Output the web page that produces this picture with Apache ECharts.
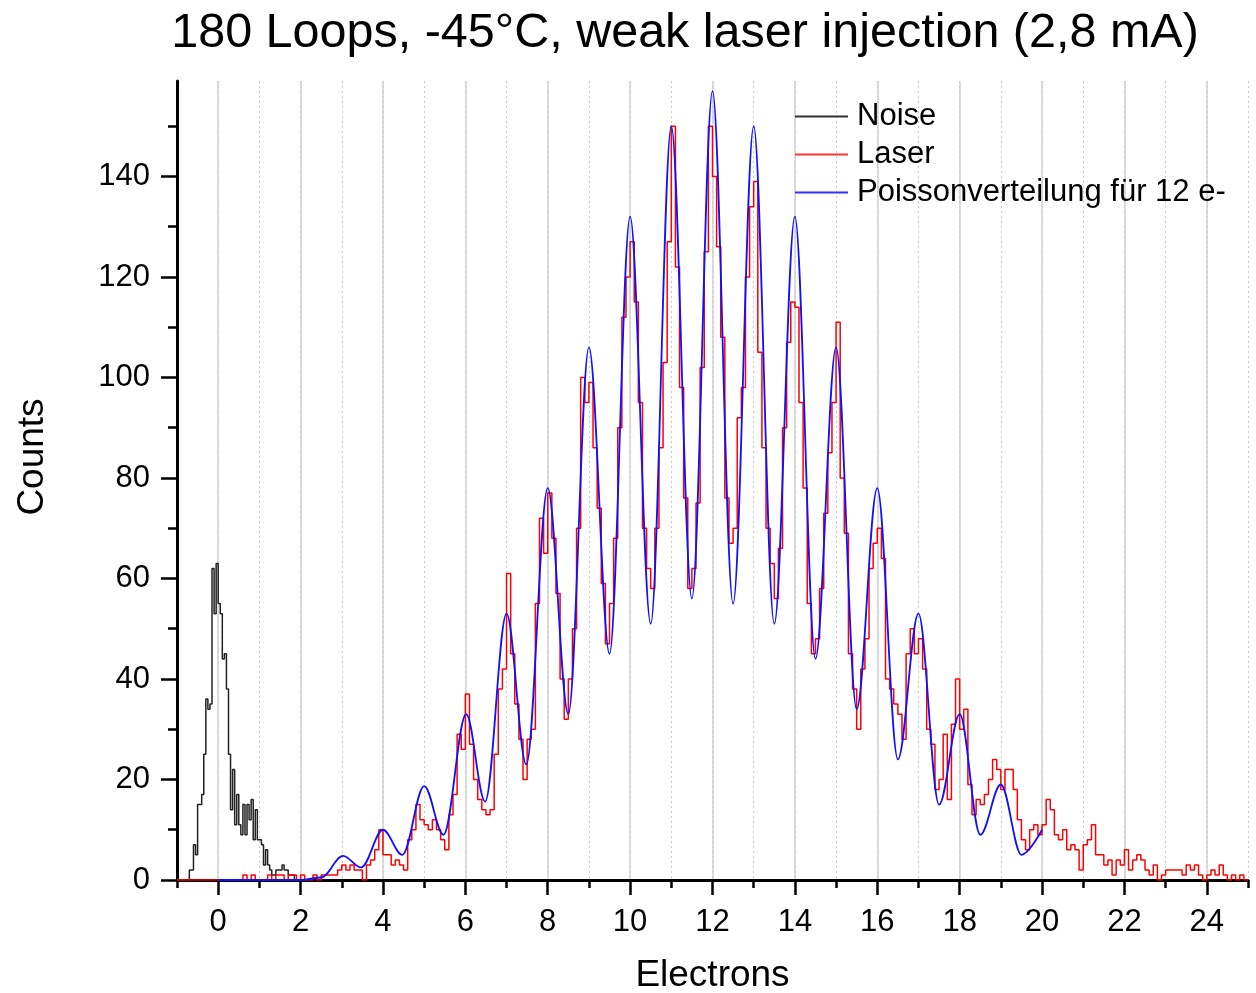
<!DOCTYPE html>
<html><head><meta charset="utf-8">
<script src="https://cdn.jsdelivr.net/npm/echarts@6/dist/echarts.min.js"></script>
<style>html,body{margin:0;padding:0;background:#fff}#c{width:1256px;height:993px}</style>
</head><body><div id="c"></div><script>
// ---------- data ----------
const titleText = '180 Loops, -45°C, weak laser injection (2,8 mA)';
const xAxisName = 'Electrons';
const yAxisName = 'Counts';
const seriesNames = ['Noise', 'Laser', 'Poissonverteilung für 12 e-'];

const xMin = -1, xMax = 25;           // full x range
const xLabelMin = 0, xLabelMax = 24, xLabelStep = 2;  // labelled (major) ticks
const xMinorStep = 1;
const yMin = 0, yMax = 159;
const yLabelMax = 140, yLabelStep = 20;
const yMinorMax = 150, yMinorStep = 10;

// Noise histogram: bin left edges start at noiseStart, width noiseBin
const noiseStart = -1.0, noiseBin = 0.05;
const noiseCounts = [
  0,0,0,0,0,0, 2,2,7,5,15,15,17,25,36,34,35,62,53,63,
  55,53,44,45,38,25,14,22,11,17,11,9,15,9,15,12,16,8,14,8,
  8,7,3,6,3,2,1,1,2,2,2,3,2,2,1,1,1,0,0,0
];

// Laser histogram: bin left edges start at laserStart, width laserBin
const laserStart = -1.0, laserBin = 0.1;
const laserCounts = [
  0,0,0,0,0,0,0,0,0,0,
  0,0,0,0,0,0,1,0,1,0,
  0,0,1,0,1,1,0,1,1,0,
  1,0,0,1,0,1,1,1,1,2,
  3,2,3,2,2,0,3,4,6,10,
  5,5,3,4,3,2,8,10,15,12,
  11,10,12,10,8,6,13,17,29,26,
  37,27,20,16,14,13,14,25,38,42,
  61,45,35,28,20,28,30,55,72,65,
  77,68,57,40,32,40,50,70,100,95,
  99,86,74,59,47,55,68,90,112,120,
  127,115,95,70,62,58,70,86,103,127,
  150,122,98,76,58,62,75,102,125,150,
  140,126,108,76,67,70,92,98,120,134,
  139,105,86,70,63,56,66,90,107,115,
  114,95,78,55,45,48,58,73,85,95,
  111,80,69,45,38,30,42,48,62,67,
  70,64,40,38,35,33,28,45,50,45,
  48,42,30,27,18,20,29,16,31,40,
  30,34,19,13,16,15,17,20,24,22,
  18,22,22,18,12,8,6,10,11,9,
  11,16,14,9,8,10,6,7,6,2,
  7,8,11,5,5,3,4,1,4,3,
  6,2,4,5,4,2,1,3,0,1,
  2,2,2,2,1,3,2,3,1,0,
  1,2,1,3,1,0,1,0,1,0
];

// Poisson curve points
const poissonX = [0, 1, 2, 2.5, 3.03, 3.47, 4.0, 4.47, 5.0, 5.47, 6.02, 6.48, 7.0, 7.48, 8.0, 8.5, 9.0, 9.5, 10, 10.5, 11, 11.5, 12, 12.5, 13, 13.5, 14, 14.5, 15, 15.5, 16, 16.5, 17, 17.5, 18, 18.5, 19, 19.5, 20];
const poissonY = [0, 0, 0, 0.5, 4.8, 2.5, 10, 5, 18.7, 9, 33, 15.6, 53, 23, 78, 33, 106, 45, 132, 51, 150, 56, 157, 55, 150, 51, 132, 44, 106, 34, 78, 24, 53, 15, 33, 9, 19, 5, 10];

// ---------- layout ----------
const plotLeft = 177, plotRight = 1248, plotTop = 81, plotBottom = 880;
const W = plotRight - plotLeft, H = plotBottom - plotTop;
const pxPerX = W / (xMax - xMin), pxPerY = H / (yMax - yMin);
const yNameCenter = 457;

function histData(start, bin, counts) {
  const d = counts.map((v, i) => [+(start + i * bin).toFixed(3), v]);
  d.push([+(start + counts.length * bin).toFixed(3), counts[counts.length - 1]]);
  return d;
}

const font = 'Liberation Sans';
const chart = echarts.init(document.getElementById('c'), null, {renderer: 'canvas'});

const gridBase = {containLabel: false, outerBoundsMode: 'none'};
const gridMain = {left: plotLeft, top: plotTop, width: W, height: H};
const gridMajorX = {left: plotLeft + (xLabelMin - xMin) * pxPerX, top: plotTop,
  width: (xLabelMax - xLabelMin) * pxPerX, height: H};
const gridMajorY = {left: plotLeft, top: plotBottom - yLabelMax * pxPerY, width: W, height: yLabelMax * pxPerY};
const gridMinorY = {left: plotLeft, top: plotBottom - yMinorMax * pxPerY, width: W, height: yMinorMax * pxPerY};
const gridYName = {left: plotLeft, top: 2 * yNameCenter - plotBottom, width: W, height: 2 * (plotBottom - yNameCenter)};

const hiddenX = (g, mn, mx) => ({type: 'value', gridIndex: g, min: mn, max: mx, show: false});
const hiddenY = (g, mn, mx) => ({type: 'value', gridIndex: g, min: mn, max: mx, show: false});

chart.setOption({
  animation: false,
  backgroundColor: '#fff',
  title: {
    text: titleText, left: 680, top: 4, textAlign: 'center',
    textStyle: {fontFamily: font, fontSize: 48.5, fontWeight: 'normal', color: '#000'}
  },
  legend: {
    orient: 'vertical', left: 790, top: 96, itemWidth: 53, itemHeight: 2, itemGap: 7,
    icon: 'rect', selectedMode: false,
    textStyle: {fontFamily: font, fontSize: 31, color: '#000', padding: [0, 0, 0, 4]},
    data: seriesNames
  },
  grid: [gridMain, gridMajorX, gridMajorY, gridMinorY, gridYName].map(g => Object.assign({}, gridBase, g)),
  xAxis: [
    {type: 'value', gridIndex: 0, min: xMin, max: xMax, interval: xMinorStep,
     name: xAxisName, nameLocation: 'middle', nameGap: 77,
     nameTextStyle: {fontFamily: font, fontSize: 37, color: '#000'},
     axisLine: {show: true, onZero: false, lineStyle: {color: '#000', width: 3}},
     axisTick: {show: true, length: 8, lineStyle: {color: '#000', width: 2.5}},
     axisLabel: {show: false},
     splitLine: {show: true, lineStyle: {color: '#c8c8c8', width: 1, type: [2, 3]}}},
    {type: 'value', gridIndex: 1, min: xLabelMin, max: xLabelMax, interval: xLabelStep,
     axisLine: {show: true, onZero: false, lineStyle: {color: '#000', width: 3}},
     axisTick: {show: true, length: 15, lineStyle: {color: '#000', width: 2.5}},
     axisLabel: {show: true, margin: 27, fontFamily: font, fontSize: 31, color: '#000'},
     splitLine: {show: true, lineStyle: {color: '#d0d0d0', width: 1.5}}},
    hiddenX(2, 0, 1),
    hiddenX(3, 0, 1),
    hiddenX(4, 0, 1)
  ],
  yAxis: [
    {type: 'value', gridIndex: 0, min: yMin, max: yMax,
     axisLine: {show: true, onZero: false, lineStyle: {color: '#000', width: 3}},
     axisTick: {show: false}, axisLabel: {show: false}, splitLine: {show: false}},
    hiddenY(1, yMin, yMax),
    {type: 'value', gridIndex: 2, min: 0, max: yLabelMax, interval: yLabelStep,
     axisLine: {show: false},
     axisTick: {show: true, length: 16, lineStyle: {color: '#000', width: 2.5}},
     axisLabel: {show: true, margin: 27, fontFamily: font, fontSize: 31, color: '#000'},
     splitLine: {show: false}},
    {type: 'value', gridIndex: 3, min: 0, max: yMinorMax, interval: yMinorStep,
     axisLine: {show: false},
     axisTick: {show: true, length: 9, lineStyle: {color: '#000', width: 2.5}},
     axisLabel: {show: false}, splitLine: {show: false}},
    {type: 'value', gridIndex: 4, min: 0, max: 1,
     name: yAxisName, nameLocation: 'middle', nameGap: 126,
     nameTextStyle: {fontFamily: font, fontSize: 37, color: '#000'},
     axisLine: {show: false}, axisTick: {show: false}, axisLabel: {show: false}, splitLine: {show: false}}
  ],
  series: [
    {name: seriesNames[0], type: 'line', xAxisIndex: 0, yAxisIndex: 0, step: 'end',
     symbol: 'none', data: histData(noiseStart, noiseBin, noiseCounts),
     lineStyle: {color: '#222', width: 1.5}, itemStyle: {color: '#333'}, z: 3},
    {name: seriesNames[1], type: 'line', xAxisIndex: 0, yAxisIndex: 0, step: 'end',
     symbol: 'none', data: histData(laserStart, laserBin, laserCounts),
     lineStyle: {color: '#ff0000', width: 1.5}, itemStyle: {color: '#ff3333'}, z: 3},
    {name: seriesNames[2], type: 'line', xAxisIndex: 0, yAxisIndex: 0,
     symbol: 'none', smooth: 0.35, smoothMonotone: 'x',
     data: poissonX.map((x, i) => [x, poissonY[i]]),
     lineStyle: {color: '#1010ff', width: 1.8}, itemStyle: {color: '#3030ff'}, z: 4}
  ]
});
</script></body></html>
